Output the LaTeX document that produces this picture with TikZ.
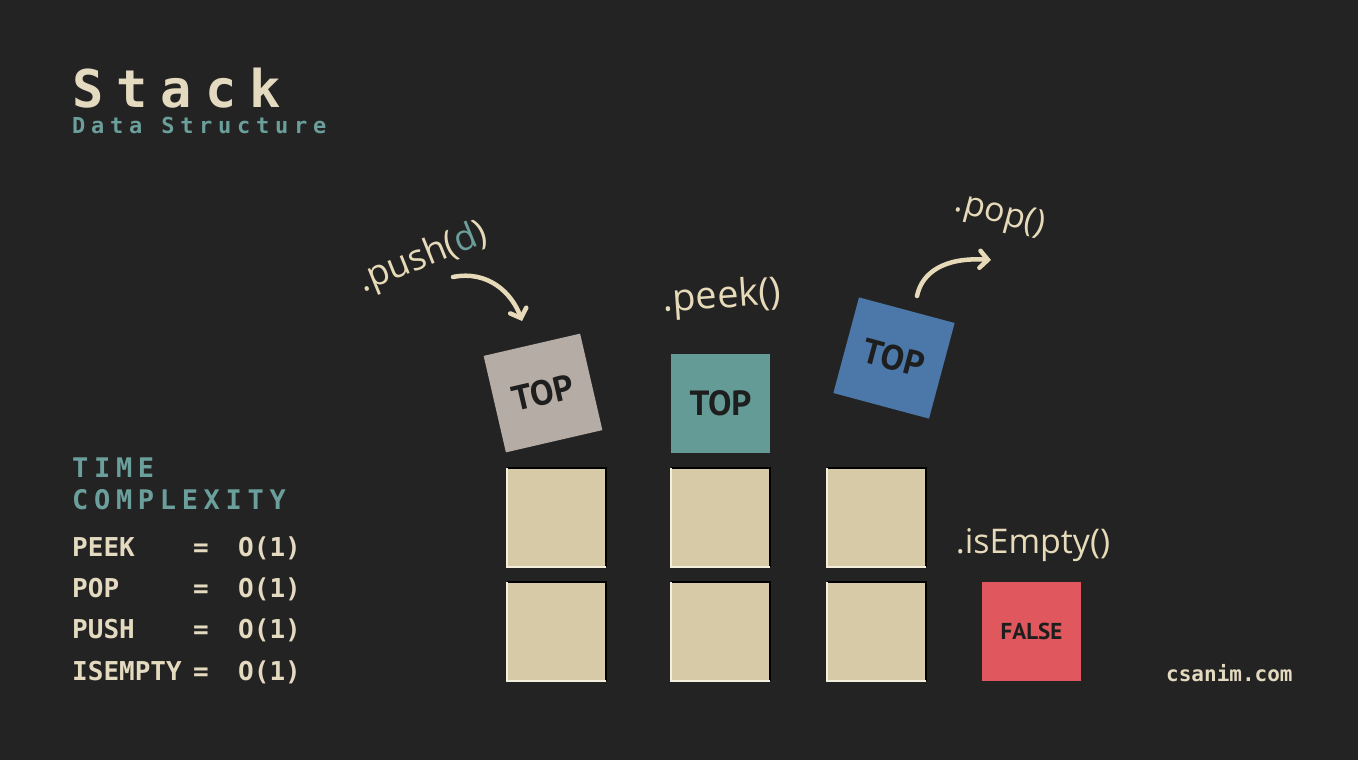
\documentclass[tikz,border=0pt]{standalone}
\usepackage{fontspec}
\usetikzlibrary{arrows.meta}
\setmonofont{DejaVu Sans Mono}
\newfontfamily\titlefont[LetterSpace=25]{DejaVu Sans Mono}
\newfontfamily\subfont[LetterSpace=26]{DejaVu Sans Mono}
\newfontfamily\tcfont[LetterSpace=21]{DejaVu Sans Mono}
\newfontfamily\rowfont{DejaVu Sans Mono}
\newfontfamily\boxfont{PT Sans}
\newfontfamily\hand{Open Sans}
\definecolor{bg}{HTML}{232323}
\definecolor{beigebox}{HTML}{D7CAA7}
\definecolor{beigetxt}{HTML}{E4DAC0}
\definecolor{tealtxt}{HTML}{6B9F9B}
\definecolor{greybox}{HTML}{B5ACA6}
\definecolor{tealbox}{HTML}{659B96}
\definecolor{bluebox}{HTML}{4B78A9}
\definecolor{redbox}{HTML}{E0585E}
\definecolor{darktxt}{HTML}{1E1E1E}
\definecolor{handcol}{HTML}{E6DAB9}
\definecolor{edgelight}{HTML}{F4EEDC}
\tikzset{
  sqbox/.style={minimum width=99pt, minimum height=99pt, inner sep=0pt, outer sep=0pt},
  stackbox/.style={sqbox, fill=beigebox},
  topbox/.style={sqbox, text=darktxt, font=\boxfont\bfseries\fontsize{35}{40}\selectfont},
  falsebox/.style={sqbox, fill=redbox, text=darktxt, font=\boxfont\bfseries\fontsize{23}{28}\selectfont},
  lbl/.style={inner sep=0pt, anchor=base west},
  rowtxt/.style={inner sep=0pt, text=beigetxt, font=\rowfont\bfseries\fontsize{26}{30}\selectfont},
  handlbl/.style={inner sep=0pt, text=handcol, font=\hand\fontsize{34}{40}\selectfont},
  handarrow/.style={draw=handcol, line width=4.5pt, line cap=round, -{Straight Barb[length=8pt,width=17pt,line cap=round]}},
  lightedge/.style={draw=edgelight, line width=1.2pt},
  darkedge/.style={draw=black, line width=1.2pt}
}
\begin{document}
\begin{tikzpicture}[x=1pt,y=-1pt]
\fill[bg] (0,0) rectangle (1358,760);
\useasboundingbox (0,0) rectangle (1358,760);

% title
\node[lbl, text=beigetxt, font=\titlefont\bfseries\fontsize{52}{60}\selectfont] (title) at (72,107) {Stack};
\node[lbl, text=tealtxt, font=\subfont\bfseries\fontsize{22}{26}\selectfont] (subtitle) at (72,133) {Data Structure};

% time complexity
\node[lbl, text=tealtxt, font=\tcfont\bfseries\fontsize{27}{30}\selectfont] (tc1) at (72,477) {TIME};
\node[lbl, text=tealtxt, font=\tcfont\bfseries\fontsize{27}{30}\selectfont] (tc2) at (72,509) {COMPLEXITY};

\node[rowtxt, lbl] (r1a) at (72,556) {PEEK};
\node[rowtxt, lbl] (r2a) at (72,597) {POP};
\node[rowtxt, lbl] (r3a) at (72,638) {PUSH};
\node[rowtxt, lbl] (r4a) at (72,680) {ISEMPTY};
\foreach \y/\n in {556/1,597/2,638/3,680/4}{
  \node[rowtxt, anchor=base] (r\n b) at (201,\y) {=};
  \node[rowtxt, lbl] (r\n c) at (238,\y) {O(1)};
}

% stack boxes
\node[stackbox] (s11) at (556.5,517.5) {};
\node[stackbox] (s12) at (556.5,631.5) {};
\node[stackbox] (s21) at (720.5,517.5) {};
\node[stackbox] (s22) at (720.5,631.5) {};
\node[stackbox] (s31) at (876.5,517.5) {};
\node[stackbox] (s32) at (876.5,631.5) {};
\foreach \b in {s11,s12,s21,s22,s31,s32}{
  \draw[darkedge] (\b.north west) -| (\b.south east);
  \draw[lightedge] (\b.north west) |- (\b.south east);
}

% top boxes
\node[topbox, fill=greybox, rotate=13] (pushbox) at (543,393) {TOP};
\node[topbox, fill=tealbox] (peekbox) at (720.5,403) {TOP};
\node[topbox, fill=bluebox, rotate=-15] (popbox) at (894,358) {TOP};

% false box
\node[falsebox] (falsebox) at (1031.5,631.5) {FALSE};

% handwritten labels
\node[handlbl, rotate=22, font=\hand\fontsize{36}{40}\selectfont] (pushlbl) at (423,258) {.push(\textcolor{tealtxt}{d})};
\node[handlbl, rotate=4, font=\hand\fontsize{38}{42}\selectfont] (peeklbl) at (722,298) {.peek()};
\node[handlbl, rotate=-15] (poplbl) at (1000,215) {.pop()};
\node[handlbl] (emptylbl) at (1033,545) {.isEmpty()};

% arrows
\coordinate (pushA) at (453,277);
\coordinate (pushB) at (522,321);
\coordinate (popA) at (917,296);
\coordinate (popB) at (991,260);
\draw[handarrow] (pushA) .. controls (488,270) and (512,293) .. (pushB);
\draw[handarrow] (popA) .. controls (922,272) and (945,257) .. (popB);

% watermark
\node[lbl, text=beigetxt, font=\rowfont\bfseries\fontsize{21}{24}\selectfont] (site) at (1166,681) {csanim.com};
\end{tikzpicture}
\end{document}
